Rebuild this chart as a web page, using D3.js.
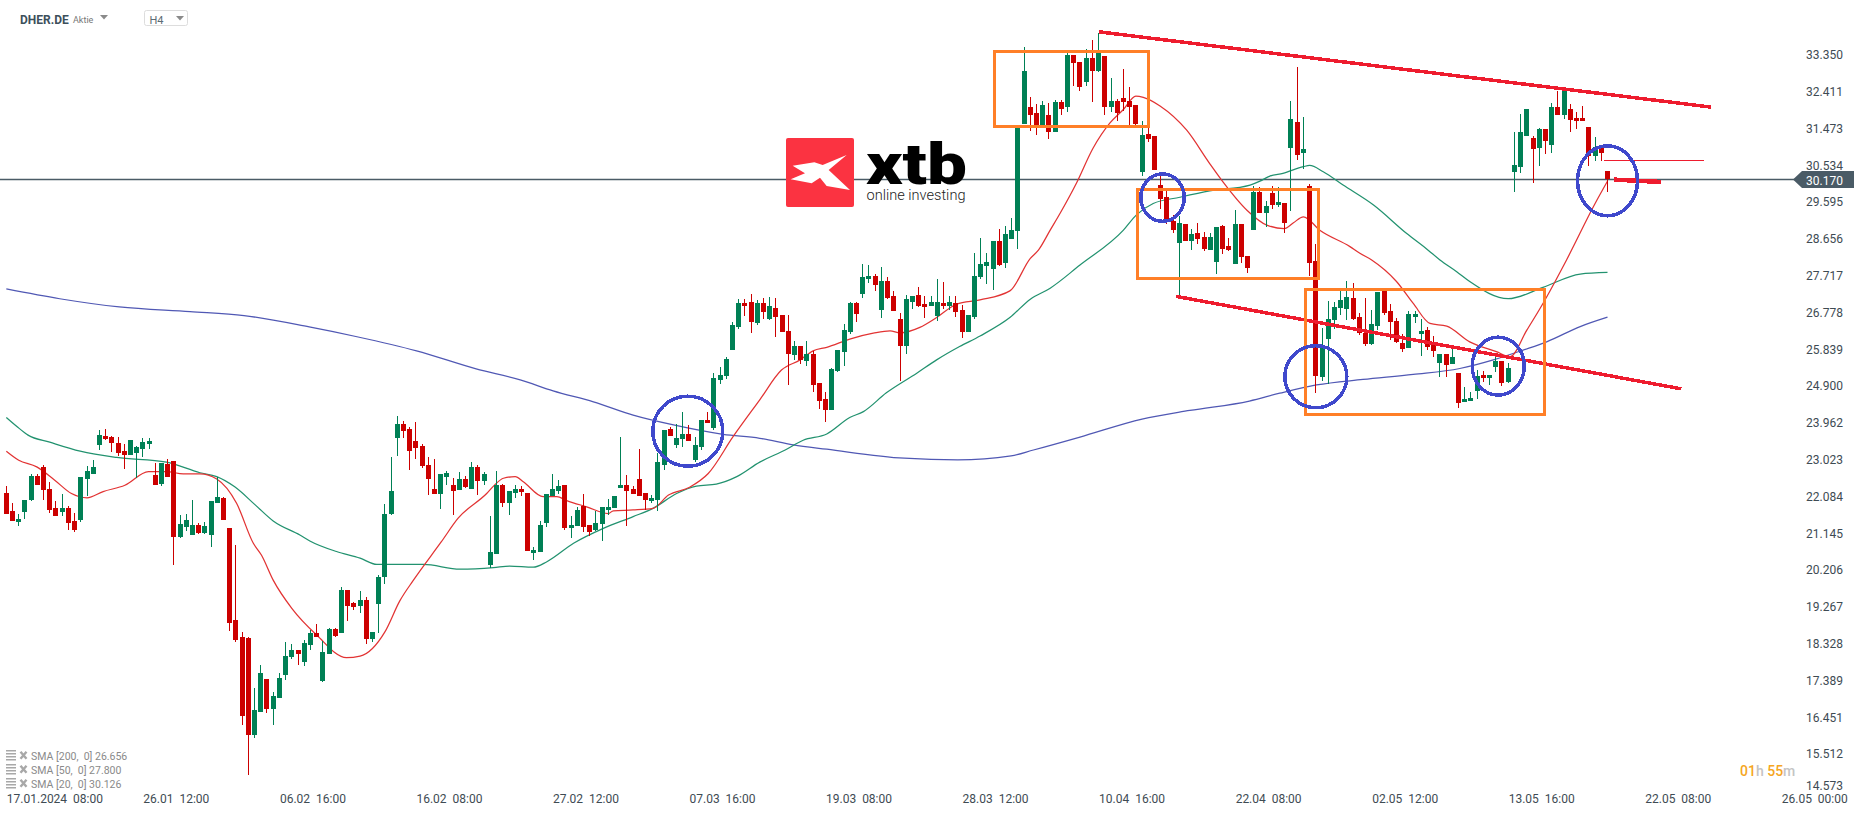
<!DOCTYPE html>
<html>
<head>
<meta charset="utf-8">
<title>DHER.DE H4</title>
<script src="https://cdnjs.cloudflare.com/ajax/libs/d3/7.8.5/d3.min.js"></script>
<style>
    html, body { margin: 0; padding: 0; background: #fff; overflow: hidden; }
    svg { display: block; }
    text { font-family: Roboto, sans-serif; white-space: pre; }
</style>
</head>
<body>
<svg id="chart" width="1866" height="815"></svg>
<script>
// [open, high, low, close] one row per H4 candle
var candles = [
[22.17,22.35,21.64,21.64],[21.71,21.92,21.46,21.46],[21.43,21.64,21.33,21.51],[21.69,21.99,21.51,21.99],[21.99,22.66,21.97,22.61],
[22.61,22.67,22.38,22.38],[22.84,22.89,21.99,22.25],[22.27,22.45,21.66,21.74],[21.79,21.97,21.59,21.59],[21.69,22.15,21.59,21.79],
[21.79,21.84,21.23,21.41],[21.46,21.66,21.18,21.23],[21.48,22.58,21.43,22.58],[22.53,22.86,22.10,22.73],[22.66,23.01,22.66,22.84],
[23.40,23.78,23.27,23.65],[23.63,23.81,23.52,23.55],[23.60,23.63,23.22,23.45],[23.45,23.60,23.12,23.19],[23.24,23.42,22.79,23.14],
[23.14,23.52,23.14,23.52],[23.19,23.37,22.55,23.35],[23.30,23.58,23.09,23.47],[23.42,23.58,23.30,23.50],[22.63,22.94,22.38,22.38],
[22.40,22.94,22.35,22.94],[22.91,23.04,22.58,22.58],[22.99,22.99,20.33,21.05],[21.05,21.61,21.02,21.38],[21.31,21.64,21.20,21.48],
[21.10,21.99,21.10,21.36],[21.36,21.41,21.13,21.15],[21.15,21.43,21.13,21.33],[21.10,21.97,20.79,21.97],[21.92,22.58,21.92,22.07],
[22.05,22.07,21.48,21.48],[21.28,21.28,18.65,18.86],[18.93,20.85,18.37,18.42],[18.50,18.63,16.25,16.48],[18.47,18.50,14.98,16.00],
[16.00,17.20,15.92,16.63],[16.58,17.78,16.58,17.58],[17.43,17.43,16.56,16.66],[16.66,17.10,16.25,16.99],[16.94,17.58,16.94,17.45],
[17.53,18.37,17.40,18.01],[17.99,18.32,17.94,18.17],[18.17,18.17,17.78,18.06],[17.86,18.42,17.76,18.34],[18.29,18.68,18.17,18.60],
[18.60,18.83,18.50,18.50],[17.38,18.40,17.35,18.12],[18.06,18.73,18.06,18.70],[18.70,18.73,18.50,18.52],[18.60,19.77,18.60,19.70],
[19.70,19.70,18.91,19.29],[19.37,19.39,19.19,19.26],[19.29,19.67,19.11,19.44],[19.44,19.52,18.32,18.45],[18.45,18.63,18.37,18.63],
[19.34,20.08,18.60,20.03],[20.03,21.89,19.85,21.64],[21.64,23.09,21.61,22.22],[23.58,24.14,23.12,23.93],[23.93,24.01,23.58,23.75],
[23.81,23.86,22.76,23.24],[23.50,23.98,23.04,23.32],[23.37,23.42,22.81,22.86],[22.89,23.09,22.12,22.53],[22.27,23.04,22.15,22.15],
[22.15,22.66,21.76,22.66],[22.58,22.73,22.38,22.68],[22.38,22.55,21.61,22.22],[22.25,22.71,22.25,22.53],[22.53,22.61,22.30,22.33],
[22.27,22.96,22.27,22.84],[22.84,22.89,22.12,22.48],[22.48,22.71,22.38,22.66],[20.33,21.59,20.26,20.67],[20.62,22.73,20.62,22.38],
[22.38,22.40,21.82,21.92],[21.92,22.22,21.61,22.22],[22.17,22.38,22.05,22.27],[22.27,22.35,22.10,22.20],[22.17,22.17,20.69,20.69],
[20.64,20.79,20.46,20.72],[20.67,21.46,20.67,21.36],[21.41,22.15,21.31,22.15],[22.10,22.66,22.10,22.27],[22.22,22.50,22.15,22.35],
[22.38,22.38,21.23,21.28],[21.28,21.59,21.02,21.36],[21.33,21.82,21.33,21.74],[21.84,22.15,21.18,21.31],[21.36,21.36,21.08,21.18],
[21.23,21.71,21.20,21.41],[21.38,21.82,20.95,21.82],[21.74,22.02,21.61,21.82],[21.79,22.10,21.79,22.10],[22.30,23.60,22.30,22.38],
[22.38,22.63,21.33,22.22],[22.27,22.35,22.15,22.15],[22.53,23.30,22.10,22.10],[22.17,22.17,21.74,21.99],[21.97,22.12,21.92,22.05],
[21.99,23.19,21.71,22.96],[22.89,23.78,22.76,23.78],[23.81,23.86,23.63,23.63],[23.40,23.93,23.32,23.58],[23.55,24.24,23.35,23.68],
[23.68,23.91,23.50,23.50],[23.01,23.60,22.96,23.40],[23.35,24.04,23.27,24.04],[24.04,24.24,23.96,23.96],[23.83,25.24,23.78,25.11],
[25.06,25.39,24.95,25.18],[25.16,25.64,25.08,25.59],[25.82,26.54,25.82,26.46],[26.41,27.12,26.36,27.02],[27.02,27.12,26.69,26.94],
[27.05,27.25,26.26,26.54],[26.51,27.10,26.46,27.02],[27.02,27.15,26.61,26.79],[26.61,27.17,26.59,26.94],[26.89,27.15,26.15,26.66],
[26.71,26.71,26.28,26.28],[26.31,26.71,24.93,25.72],[25.69,26.05,25.57,25.92],[25.92,25.92,25.46,25.57],[25.54,26.05,25.41,25.72],
[25.72,25.80,24.75,24.93],[24.98,24.98,24.32,24.52],[24.57,24.75,23.98,24.29],[24.29,25.36,24.29,25.34],[25.29,25.82,25.26,25.82],
[25.77,26.49,25.41,26.33],[26.28,27.05,26.23,27.02],[27.02,27.05,26.54,26.74],[27.25,28.02,27.15,27.68],[27.63,27.99,27.53,27.71],
[27.71,27.76,27.33,27.48],[26.84,27.94,26.64,27.58],[27.58,27.68,27.12,27.15],[27.20,27.33,26.82,26.82],[26.61,26.77,25.03,25.92],
[25.92,27.23,25.72,27.12],[27.05,27.20,26.87,27.20],[27.23,27.43,26.92,26.94],[27.00,27.20,26.64,26.92],[26.94,27.20,26.94,27.05],
[26.69,27.63,26.56,27.05],[27.02,27.56,26.87,26.94],[26.94,27.20,26.84,27.05],[27.02,27.20,26.66,26.79],[26.84,26.97,26.13,26.28],
[26.28,26.71,26.28,26.71],[26.66,28.30,26.61,27.71],[27.68,28.68,27.63,28.02],[27.97,28.30,27.51,28.07],[27.89,28.60,27.35,28.60],
[28.60,28.91,27.96,27.99],[28.04,28.99,27.91,28.78],[28.65,29.19,28.65,28.88],[28.86,31.54,28.40,31.54],[31.59,33.55,31.59,32.94],
[32.02,32.28,31.41,31.82],[31.87,32.10,31.31,31.54],[31.54,32.18,31.54,32.07],[31.82,32.12,31.21,31.38],[31.38,32.20,31.38,32.15],
[32.15,32.20,31.82,31.97],[32.02,33.40,31.89,33.35],[33.35,33.35,32.56,33.14],[33.17,33.17,32.43,32.53],[32.66,33.50,32.56,33.27],
[33.27,33.73,32.15,32.94],[32.94,33.91,32.91,33.40],[33.32,33.32,31.82,32.02],[32.02,32.76,31.89,32.17],[32.17,32.23,31.66,31.87],
[32.25,32.99,31.92,32.15],[32.17,32.53,31.56,32.02],[32.07,32.07,31.56,31.59],[30.36,31.66,30.26,31.31],[31.33,31.49,31.13,31.21],
[31.28,31.28,30.41,30.41],[30.03,30.29,29.42,29.67],[29.73,29.88,29.04,29.09],[29.11,29.27,28.81,28.88],[28.55,29.24,27.18,29.06],
[29.04,29.04,28.60,28.60],[28.60,28.91,28.37,28.78],[28.81,29.06,28.53,28.65],[28.70,28.83,28.35,28.40],[28.37,28.81,28.37,28.70],
[28.07,28.96,27.76,28.96],[28.99,29.01,28.27,28.40],[28.48,28.68,28.35,28.37],[28.02,29.39,28.02,29.04],[29.04,29.04,28.04,28.19],
[28.22,28.22,27.79,27.91],[28.88,30.01,28.88,29.85],[29.85,29.98,29.32,29.32],[29.32,29.62,28.96,29.50],[29.83,30.01,29.42,29.52],
[29.52,29.98,29.47,29.60],[29.57,29.57,28.81,29.06],[30.98,32.18,29.37,31.72],[31.64,33.04,30.67,30.80],[30.85,31.77,30.44,30.95],
[30.01,30.06,27.71,28.04],[28.09,28.53,24.72,25.16],[25.13,26.38,25.03,25.87],[26.10,27.07,24.95,26.61],[26.59,27.05,26.36,26.92],
[26.89,27.33,26.71,27.10],[26.87,27.58,26.59,27.17],[27.15,27.53,26.59,26.61],[26.66,26.77,26.20,26.25],[26.25,27.15,25.92,25.97],
[25.97,26.84,25.95,26.48],[26.43,27.30,26.33,27.30],[27.33,27.33,26.71,26.77],[26.82,26.99,26.08,26.54],[26.56,26.64,26.00,26.03],
[26.00,26.23,25.77,25.85],[25.87,26.82,25.87,26.74],[26.66,26.82,26.51,26.74],[26.23,26.61,25.67,26.31],[26.33,26.41,25.82,25.90],
[26.03,26.18,25.64,25.80],[25.49,25.72,25.13,25.72],[25.72,25.72,25.13,25.44],[25.46,25.85,25.46,25.64],[25.23,25.23,24.34,24.47],
[24.50,24.88,24.50,24.57],[24.52,24.75,24.52,24.60],[24.78,25.31,24.57,25.16],[25.18,25.29,25.00,25.11],[25.11,25.18,24.93,25.18],
[25.39,25.67,25.26,25.54],[25.54,25.54,24.90,24.98],[25.00,25.49,24.98,25.36],[30.36,31.38,29.85,30.54],[30.49,31.84,30.34,31.38],
[31.28,31.96,31.28,31.96],[31.23,31.28,30.08,30.95],[30.98,31.49,30.52,31.46],[31.46,31.46,30.82,31.15],[31.05,32.12,30.85,32.02],
[32.02,32.43,31.82,31.82],[31.82,32.43,31.72,32.43],[31.97,32.10,31.38,31.69],[31.74,31.90,31.46,31.67],[31.74,32.05,31.67,31.67],
[31.51,31.51,30.52,30.77],[30.77,31.26,30.64,31.00],[31.00,31.00,30.64,30.85],[30.39,30.39,29.85,30.19]
];

var sma20 = [[0,23.24],[2,23.01],[4.9,22.84],[7.8,22.50],[10.5,22.16],[13,22.05],[15.6,22.21],[19.1,22.37],[22.9,22.72],[25.8,22.72],[28.5,22.66],[31.2,22.66],[33.9,22.53],[37.1,21.91],[39.8,20.89],[41.1,20.59],[43,19.95],[46,19.23],[50,18.55],[54.8,17.97],[57,18.01],[61,18.63],[63.4,19.42],[65.6,19.95],[70.1,20.93],[72.8,21.53],[77.4,22.16],[78.7,22.38],[80.1,22.55],[82,22.59],[83.3,22.46],[86.5,22.08],[88.7,22.08],[90.3,21.98],[93.5,21.82],[97,21.65],[97.8,21.72],[101,21.74],[104.2,21.78],[106.7,22.12],[110.1,22.32],[113.1,22.67],[117.1,23.61],[121.4,24.55],[124.9,25.31],[127.9,25.57],[130,25.80],[132.2,25.89],[135.9,26.10],[139.7,26.25],[142.4,26.31],[144,26.26],[147.2,26.40],[149.9,26.65],[153.1,26.99],[156.9,27.10],[161.7,27.33],[165,28.16],[166.3,28.37],[168.2,28.88],[169.8,29.31],[172.4,30.07],[175.1,30.97],[177.8,31.61],[180,31.96],[182,32.30],[183.2,32.27],[185.9,32.05],[190.2,31.43],[193.9,30.58],[196.1,30.10],[199.9,29.39],[203.1,29.01],[205.9,28.92],[207.4,29.07],[209,29.22],[211.7,28.87],[216.5,28.46],[218.1,28.29],[220,28.12],[224,27.57],[226.7,27.01],[229.4,26.50],[232.1,26.43],[235.8,26.03],[240.1,25.78],[242.3,25.65],[245,26.33],[247.6,27.01],[251.4,28.12],[256,29.56],[258,30.13]];
var sma50 = [[0,24.10],[1.7,23.87],[3.5,23.65],[7,23.47],[11.9,23.24],[17.8,23.08],[25.8,22.96],[31.2,22.69],[33.9,22.59],[36.8,22.33],[40.1,21.87],[43,21.46],[47.3,21.10],[48.9,20.95],[53.2,20.68],[57,20.51],[59.7,20.35],[63.4,20.35],[67.2,20.35],[73.1,20.23],[78.5,20.27],[81.1,20.31],[84.9,20.28],[87.1,20.42],[91.4,20.89],[96.2,21.27],[101,21.57],[104.2,21.78],[108,22.16],[111.2,22.35],[114.4,22.40],[117.7,22.59],[121.4,22.96],[125.5,23.27],[128.4,23.52],[132.2,23.68],[135.9,24.10],[138.1,24.25],[141.8,24.73],[146.7,25.23],[149.9,25.57],[153.6,25.91],[156.9,26.18],[161.7,26.65],[165,27.12],[168.2,27.40],[173,27.99],[180,28.88],[182.1,29.27],[184.8,29.56],[189.1,29.72],[193.9,29.88],[200.4,30.03],[202,30.13],[203.6,30.26],[205.7,30.33],[209,30.50],[210,30.53],[212.2,30.37],[215.4,30.03],[220.3,29.52],[225.6,28.80],[229.1,28.37],[231,28.12],[233.7,27.82],[235.8,27.57],[242,27.13],[247.6,27.42],[253.6,27.76],[258,27.80]];
var sma200 = [[0,27.38],[8.6,27.13],[18.2,26.92],[29.6,26.80],[38.3,26.70],[48.8,26.41],[56.5,26.16],[66.1,25.80],[75.7,25.34],[82.8,25.06],[88.1,24.78],[94.6,24.50],[101,24.16],[107.5,23.91],[115.5,23.67],[121.4,23.57],[126.8,23.40],[132.2,23.29],[144.7,23.06],[153.3,23.02],[161.9,23.12],[165.5,23.27],[173,23.60],[183,24.06],[190.7,24.28],[200.3,24.52],[205.2,24.72],[211.1,24.93],[218.6,25.07],[226.7,25.20],[234.2,25.35],[239.6,25.57],[244.4,25.82],[248.2,26.03],[253.6,26.42],[258,26.66]];

var priceTicks = [33.350,32.411,31.473,30.534,29.595,28.656,27.717,26.778,25.839,24.900,23.962,23.023,22.084,21.145,20.206,19.267,18.328,17.389,16.451,15.512,14.573];
var dateTicks = ['17.01.2024  08:00','26.01  12:00','06.02  16:00','16.02  08:00','27.02  12:00','07.03  16:00','19.03  08:00','28.03  12:00','10.04  16:00','22.04  08:00','02.05  12:00','13.05  16:00','22.05  08:00','26.05  00:00'];
var lastPrice = 30.170;

var legendRows = ['SMA [200,  0] 26.656', 'SMA [50,  0] 27.800', 'SMA [20,  0] 30.126'];

// hand drawn analysis on the chart, in candle index / price
var trendLines = [
    [[176.1,33.94],[274.7,32.02]],
    [[188.5,27.19],[269.9,24.83]]
];
var targetLine = [[259,30.17],[266.6,30.11]];
var thinLevel = [[257.4,30.645],[273.6,30.645]];
var boxes = [
    [159.3,33.43,184.1,31.52],
    [182.2,29.92,211.5,27.65],
    [209.3,27.37,247.8,24.18]
];
var circles = [
    [109.8,23.75,35,35],
    [186.3,29.71,21.7,23.7],
    [211,25.14,31,31],
    [240.4,25.41,26,29],
    [258,30.14,30,35]
];

var up = '#008055', down = '#cc0000', axisText = '#3e4b53', slate = '#4a5b66';

var svg = d3.select('#chart');

var x = d3.scaleLinear().domain([0, 258]).range([6.33, 1607.5]);
var y = d3.scaleLinear().domain([14.573, 33.35]).range([790.85, 54.98]);

// last price line
svg.append('line')
    .attr('x1', 0).attr('x2', 1796)
    .attr('y1', y(lastPrice)).attr('y2', y(lastPrice))
    .attr('stroke', slate).attr('stroke-width', 1.5);

// moving averages go under the candles
var smaLine = d3.line()
    .x(d => x(d[0]))
    .y(d => y(d[1]))
    .curve(d3.curveMonotoneX);

[[sma200, '#5058b4'], [sma50, '#22926f'], [sma20, '#e23333']].forEach(s => {
    svg.append('path')
        .attr('d', smaLine(s[0]))
        .attr('fill', 'none')
        .attr('stroke', s[1])
        .attr('stroke-width', 1.25);
});

// candles
var candle = svg.append('g').attr('shape-rendering', 'crispEdges')
    .selectAll('g').data(candles).join('g')
    .attr('fill', d => d[3] >= d[0] ? up : down);

candle.append('rect')
    .attr('x', (d, i) => Math.floor(x(i)))
    .attr('width', 1)
    .attr('y', d => y(d[1]))
    .attr('height', d => y(d[2]) - y(d[1]));

candle.append('rect')
    .attr('x', (d, i) => Math.floor(x(i)) - 2)
    .attr('width', 5)
    .attr('y', d => y(Math.max(d[0], d[3])))
    .attr('height', d => Math.max(1, Math.abs(y(d[0]) - y(d[3]))));

// analysis overlay, the drawing tools render without antialiasing
var straight = d3.line().x(d => x(d[0])).y(d => y(d[1]));
var overlay = svg.append('g').attr('shape-rendering', 'crispEdges');

overlay.append('path').attr('d', straight(thinLevel))
    .attr('fill', 'none').attr('stroke', '#ee1c2e').attr('stroke-width', 1);

overlay.selectAll('.trend').data(trendLines).join('path')
    .attr('class', 'trend')
    .attr('d', straight)
    .attr('fill', 'none')
    .attr('stroke', '#ee1c2e')
    .attr('stroke-width', 3.5);

overlay.append('path').attr('d', straight(targetLine))
    .attr('fill', 'none').attr('stroke', '#ee1c2e').attr('stroke-width', 4.5);

overlay.selectAll('.box').data(boxes).join('rect')
    .attr('class', 'box')
    .attr('x', d => x(d[0]))
    .attr('y', d => y(d[1]))
    .attr('width', d => x(d[2]) - x(d[0]))
    .attr('height', d => y(d[3]) - y(d[1]))
    .attr('fill', 'none')
    .attr('stroke', '#ff7f27')
    .attr('stroke-width', 3);

overlay.selectAll('.ring').data(circles).join('ellipse')
    .attr('class', 'ring')
    .attr('cx', d => x(d[0]))
    .attr('cy', d => y(d[1]))
    .attr('rx', d => d[2])
    .attr('ry', d => d[3])
    .attr('fill', 'none')
    .attr('stroke', '#3f48cc')
    .attr('stroke-width', 3.5);

// axes
var yAxis = svg.append('g')
    .attr('transform', 'translate(1806,0)')
    .call(d3.axisRight(y).tickValues(priceTicks).tickSize(0).tickPadding(0).tickFormat(d3.format('.3f')));
yAxis.select('.domain').remove();
yAxis.selectAll('text').attr('font-size', 12).attr('font-family', 'Roboto').attr('fill', axisText);
// lowest label is pushed up so it stays above the date row
yAxis.selectAll('.tick').filter(d => d === 14.573).select('text').attr('y', -5);

var xAxis = svg.append('g')
    .attr('transform', 'translate(0,794)')
    .call(d3.axisBottom(x)
        .tickValues(dateTicks.map((d, i) => i * 22))
        .tickSize(0).tickPadding(0)
        .tickFormat((d, i) => dateTicks[i]));
xAxis.select('.domain').remove();
xAxis.selectAll('text')
    .attr('font-size', 12).attr('font-family', 'Roboto')
    .attr('fill', axisText).attr('text-anchor', 'start');

// current price tag
var tag = svg.append('g');
tag.append('path').attr('d', 'M1793 179.6L1802 171H1854V188H1802Z').attr('fill', slate);
tag.append('text').attr('x', 1806).attr('y', 184.5)
    .attr('font-size', 12).attr('fill', '#fff').text(d3.format('.3f')(lastPrice));

// xtb logo
var logo = svg.append('g');
logo.append('rect').attr('x', 786).attr('y', 138).attr('width', 68).attr('height', 69).attr('rx', 2).attr('fill', '#fb3341');
logo.append('path')
    .attr('transform', 'translate(770,125) scale(0.3333)')
    .attr('d', 'M68 122L133 112L158 120L230 90L176 135L240 195L170 183L150 158L125 175L62 163L105 145Z')
    .attr('fill', '#fff');
logo.append('text').attr('x', 866).attr('y', 183.5)
    .attr('font-size', 58).attr('font-weight', 900).attr('fill', '#000')
    .attr('textLength', 101).attr('lengthAdjust', 'spacingAndGlyphs').text('xtb');
logo.append('text').attr('x', 866.5).attr('y', 200)
    .attr('font-size', 15).attr('font-weight', 300).attr('fill', '#222')
    .attr('textLength', 99).attr('lengthAdjust', 'spacingAndGlyphs').text('online investing');

// symbol header
svg.append('text').attr('x', 20).attr('y', 23.5)
    .attr('font-size', 12).attr('font-weight', 700).attr('fill', '#3d4f5b').text('DHER.DE');
svg.append('text').attr('x', 73).attr('y', 22.5)
    .attr('font-size', 9).attr('fill', '#777').text('Aktie');
svg.append('path').attr('d', 'M100 15H108L104 19.5Z').attr('fill', '#8a8a8a');
svg.append('rect').attr('x', 144.5).attr('y', 10.5).attr('width', 43).attr('height', 15).attr('rx', 2)
    .attr('fill', '#fff').attr('stroke', '#ddd');
svg.append('text').attr('x', 149.5).attr('y', 24)
    .attr('font-size', 11).attr('fill', '#5c6b74').text('H4');
svg.append('path').attr('d', 'M176 16H184L180 20.5Z').attr('fill', '#8a8a8a');

// indicator legend
var legend = svg.append('g').selectAll('g').data(legendRows).join('g')
    .attr('transform', (d, i) => 'translate(0,' + (755.7 + i * 14) + ')');
legend.append('path')
    .attr('d', 'M6 -5H16M6 -2H16M6 1H16M6 4H16')
    .attr('stroke', '#a8a8a8').attr('stroke-width', 1.6);
legend.append('path')
    .attr('d', 'M20.5 -4L26.5 3M26.5 -4L20.5 3')
    .attr('stroke', '#a8a8a8').attr('stroke-width', 2.4);
legend.append('text').attr('x', 31).attr('y', 3.8)
    .attr('font-size', 10.5).attr('fill', '#8a8a8a').text(d => d);

// candle countdown
var clock = svg.append('text').attr('x', 1740).attr('y', 775.5).attr('font-size', 14).attr('font-weight', 500);
clock.append('tspan').attr('fill', '#f5a623').text('01');
clock.append('tspan').attr('fill', '#c4c4c4').text('h ');
clock.append('tspan').attr('fill', '#f5a623').text('55');
clock.append('tspan').attr('fill', '#c4c4c4').text('m');
</script>
</body>
</html>
